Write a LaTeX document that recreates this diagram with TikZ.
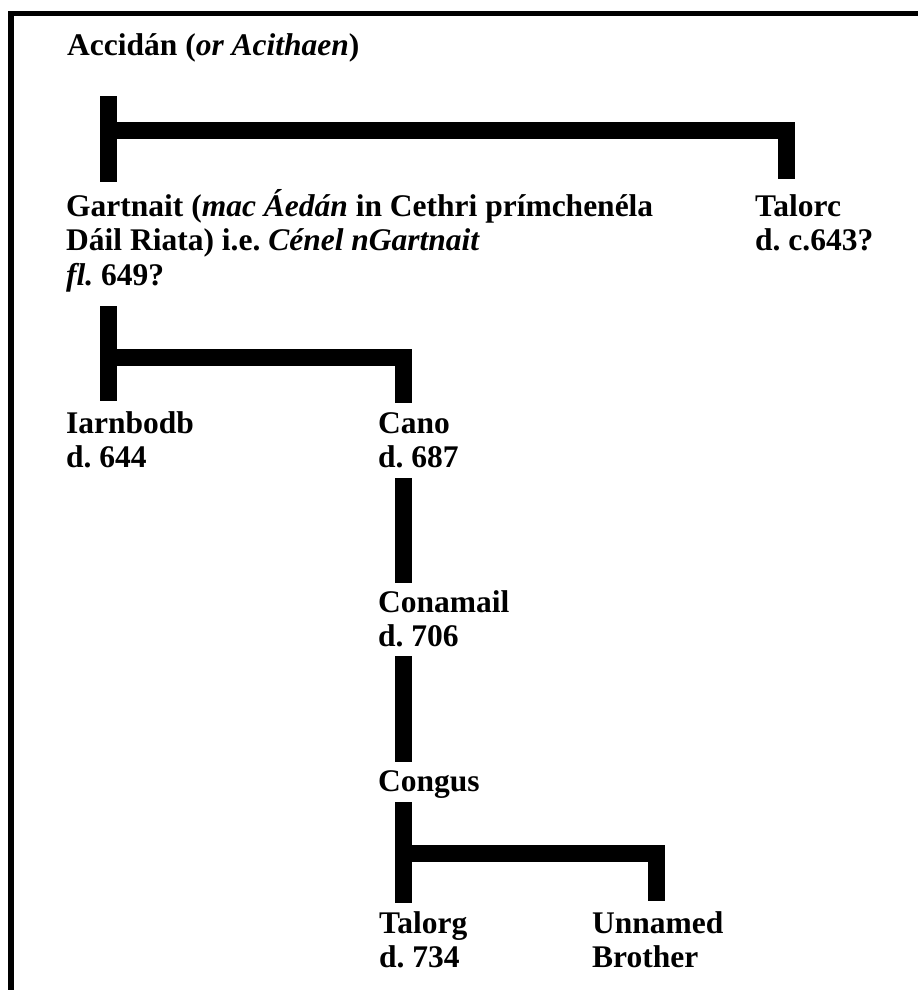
\documentclass[tikz,border=0pt]{standalone}
\usepackage{fontspec}
\setmainfont{Liberation Serif}
\usetikzlibrary{calc}
\frenchspacing
\tikzset{
  person/.style={anchor=base west, align=left, inner sep=0pt,
    font=\bfseries\fontsize{31.5}{34.5}\selectfont},
  bar/.style={line width=17pt, line join=miter}
}
\begin{document}
\begin{tikzpicture}[x=1pt,y=-1pt]
  \useasboundingbox (0,0) rectangle (918,990);
  \fill (8,11) rectangle (918,16);
  \fill (8,11) rectangle (14,990);

  \node[person] (accidan) at (67,56) {Accidán (\textit{or Acithaen})};
  \node[person] (gartnait) at (66,285) {Gartnait (\textit{mac Áedán} in Cethri prímchenéla\\Dáil Riata) i.e. \textit{Cénel nGartnait}\\\textit{fl.} 649?};
  \node[person] (talorc) at (755,250.5) {Talorc\\d. c.643?};
  \node[person] (iarnbodb) at (66,467.5) {Iarnbodb\\d. 644};
  \node[person] (cano) at (378,467.5) {Cano\\d. 687};
  \node[person] (conamail) at (378,646.5) {Conamail\\d. 706};
  \node[person] (congus) at (378,791) {Congus};
  \node[person] (talorg) at (379,967.5) {Talorg\\d. 734};
  \node[person] (unnamed) at (592,967.5) {Unnamed\\Brother};

  \coordinate (fam1) at ($(accidan.base west)+(41.5,74)$);
  \coordinate (fam2) at ($(gartnait.base west)+(42.5,72)$);
  \coordinate (fam3) at ($(congus.base west)+(25.5,62)$);

  \draw[bar] ($(accidan.base west)+(41.5,40)$) -- ($(gartnait.base west)+(42.5,-103)$);
  \draw[bar] (fam1) -| ($(talorc.base west)+(31,-71.5)$);

  \draw[bar] ($(gartnait.base west)+(42.5,21)$) -- ($(iarnbodb.base west)+(42.5,-66.5)$);
  \draw[bar] (fam2) -| ($(cano.base west)+(25.5,-64.5)$);

  \draw[bar] ($(cano.base west)+(25.5,10.5)$) -- ($(conamail.base west)+(25.5,-63.5)$);
  \draw[bar] ($(conamail.base west)+(25.5,9.5)$) -- ($(congus.base west)+(25.5,-29)$);

  \draw[bar] ($(congus.base west)+(25.5,11)$) -- ($(talorg.base west)+(24.5,-64.5)$);
  \draw[bar] (fam3) -| ($(unnamed.base west)+(64,-66.5)$);
\end{tikzpicture}
\end{document}
